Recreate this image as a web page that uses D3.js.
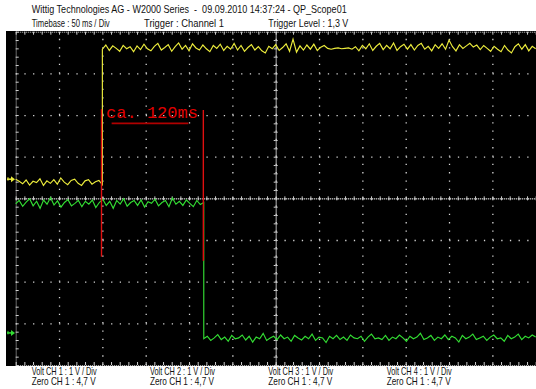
<!DOCTYPE html>
<html><head><meta charset="utf-8">
<script src="https://cdn.jsdelivr.net/npm/d3@7"></script>
<style>
body{margin:0;background:#fff}
svg{display:block}
text{font-family:"Liberation Sans Narrow","Liberation Sans",Arial,sans-serif;white-space:pre}
</style>
</head><body>
<svg id="chart" width="536" height="389"></svg>
<script>
// ---------- text ----------
const titleLine = "Wittig Technologies AG - W2000 Series  -  09.09.2010 14:37:24 - QP_Scope01";
const infoLabels = ["Timebase : 50 ms / Div", "Trigger : Channel 1", "Trigger Level : 1,3 V"];
const voltLabels = ["Volt CH 1 : 1 V / Div", "Volt CH 2 : 1 V / Div", "Volt CH 3 : 1 V / Div", "Volt CH 4 : 1 V / Div"];
const zeroLabels = ["Zero CH 1 : 4,7 V", "Zero CH 1 : 4,7 V", "Zero CH 1 : 4,7 V", "Zero CH 1 : 4,7 V"];
const annotationText = "ca. 120ms";

// ---------- data (time in ms, screen volts in divisions) ----------
const timeDomain = [0, 600];          // 12 div x 50 ms
const voltDomain = [-4, 4];           // 8 div x 1 V
const ch1EdgeMs = 100;
const ch2EdgeMs = 217;
const cursorMs = [99, 216.5];
const ch1Marker = 0.46;
const ch2Marker = -3.23;

const ch1Low = [0.46,0.41,0.35,0.44,0.32,0.41,0.38,0.47,0.31,0.42,0.36,0.45,0.34,0.49,0.39,0.33,0.43,0.46,0.36,0.31,0.42,0.45,0.34,0.40,0.43,0.33];
const ch1High = [
3.58,3.68,3.55,3.66,3.60,3.53,3.67,3.59,3.64,3.52,
3.66,3.57,3.70,3.59,3.54,3.65,3.72,3.56,3.62,3.69,
3.53,3.64,3.73,3.58,3.67,3.54,3.71,3.61,3.56,3.68,
3.59,3.52,3.67,3.60,3.70,3.55,3.65,3.58,3.72,3.56,
3.67,3.53,3.62,3.69,3.56,3.64,3.54,3.49,3.65,3.59,
3.69,3.55,3.62,3.71,3.53,3.82,3.51,3.66,3.56,3.68,
3.58,3.70,3.55,3.63,3.67,3.60,3.58,3.60,3.61,3.59,
3.60,3.61,3.58,3.64,3.54,3.67,3.59,3.71,3.55,3.65,
3.72,3.57,3.67,3.59,3.73,3.55,3.64,3.70,3.58,3.69,
3.56,3.67,3.72,3.58,3.65,3.54,3.69,3.60,3.71,3.58,
3.80,3.64,3.54,3.69,3.60,3.66,3.72,3.63,3.68,3.57,
3.67,3.60,3.53,3.65,3.58,3.52,3.67,3.56,3.49,3.64,
3.71,3.58,3.69,3.54,3.65,3.59];
const ch2High = [
-0.13,-0.05,-0.19,-0.09,-0.01,-0.18,-0.07,-0.24,-0.04,-0.14,
0.02,-0.16,-0.06,-0.21,-0.10,-0.03,-0.18,-0.12,-0.05,-0.20,
-0.07,-0.14,-0.04,-0.22,-0.10,-0.02,-0.17,-0.07,-0.24,-0.05,
-0.14,-0.01,-0.19,-0.10,-0.05,-0.17,-0.04,-0.21,-0.08,-0.12,
-0.02,-0.18,-0.10,-0.05,-0.20,0.01,-0.14,-0.07,-0.17,-0.04,
-0.12,-0.20,-0.05,-0.15,-0.10];
const ch2Low = [
-3.37,-3.31,-3.41,-3.35,-3.27,-3.39,-3.33,-3.43,-3.29,-3.37,
-3.35,-3.28,-3.40,-3.31,-3.45,-3.33,-3.37,-3.24,-3.41,-3.35,
-3.31,-3.39,-3.28,-3.37,-3.33,-3.43,-3.29,-3.35,-3.40,-3.31,
-3.37,-3.26,-3.41,-3.33,-3.35,-3.46,-3.31,-3.37,-3.29,-3.39,
-3.33,-3.41,-3.28,-3.35,-3.37,-3.31,-3.43,-3.33,-3.26,-3.37,
-3.35,-3.39,-3.29,-3.41,-3.33,-3.37,-3.28,-3.35,-3.43,-3.31,
-3.37,-3.33,-3.24,-3.39,-3.35,-3.29,-3.41,-3.33,-3.37,-3.28,
-3.39,-3.31,-3.35,-3.45,-3.29,-3.37,-3.33,-3.26,-3.39,-3.35,
-3.31,-3.41,-3.33,-3.28,-3.37,-3.35,-3.43,-3.29,-3.37,-3.33,
-3.26,-3.39,-3.31,-3.35,-3.28,-3.33];

// ---------- layout ----------
const svg = d3.select("#chart");
const x = d3.scaleLinear().domain(timeDomain).range([15.7, 535.7]);
const y = d3.scaleLinear().domain(voltDomain).range([365, 31.7]);

svg.append("rect").attr("x", 6).attr("y", 31).attr("width", 530).attr("height", 335).attr("fill", "#000");

const gridCol = "#d4d4d4", axisCol = "#d0d0d0";
function clean(g) { g.selectAll("text").remove(); return g; }

// vertical grid
const gx = svg.append("g").attr("transform", `translate(0,${y(-4)})`)
  .call(d3.axisBottom(x).tickValues(d3.range(50, 600, 50)).tickSize(-(y(-4) - y(4))).tickFormat(""));
gx.select(".domain").remove();
gx.selectAll("line").attr("stroke", gridCol).attr("stroke-width", 1.3).attr("stroke-dasharray", "1.3,7.03");

// horizontal grid
const gy = svg.append("g").attr("transform", `translate(${x(0)},0)`)
  .call(d3.axisLeft(y).tickValues(d3.range(-3, 4, 1)).tickSize(-(x(600) - x(0))).tickFormat(""));
gy.select(".domain").remove();
gy.selectAll("line").attr("stroke", gridCol).attr("stroke-width", 1.3).attr("stroke-dasharray", "1.3,7.37");

const minorT = d3.range(0, 601, 10);
const minorV = d3.range(-40, 41, 2).map(d => d / 10);

function styleAxis(g) {
  clean(g);
  g.select(".domain").attr("stroke", axisCol).attr("stroke-dasharray", "1,1");
  g.selectAll(".tick line").attr("stroke", axisCol);
}
// frame axes
svg.append("g").attr("transform", `translate(${x(0)},0)`)
  .call(d3.axisRight(y).tickValues(minorV).tickSize(3).tickSizeOuter(0).tickFormat("")).call(styleAxis);
svg.append("g").attr("transform", `translate(0,${y(4)})`)
  .call(d3.axisBottom(x).tickValues(minorT).tickSize(3).tickSizeOuter(0).tickFormat("")).call(styleAxis);
svg.append("g").attr("transform", `translate(0,${y(-4)})`)
  .call(d3.axisTop(x).tickValues(minorT).tickSize(3).tickSizeOuter(0).tickFormat("")).call(styleAxis);
// center axes
svg.append("g").attr("transform", `translate(0,${y(0)})`)
  .call(d3.axisBottom(x).tickValues(minorT).tickSize(2).tickSizeOuter(0).tickFormat("")).call(styleAxis);
svg.append("g").attr("transform", `translate(0,${y(0)})`)
  .call(d3.axisTop(x).tickValues(minorT).tickSize(2).tickSizeOuter(0).tickFormat("")).call(styleAxis);
svg.append("g").attr("transform", `translate(${x(300)},0)`)
  .call(d3.axisLeft(y).tickValues(minorV).tickSize(2).tickSizeOuter(0).tickFormat("")).call(styleAxis);
svg.append("g").attr("transform", `translate(${x(300)},0)`)
  .call(d3.axisRight(y).tickValues(minorV).tickSize(2).tickSizeOuter(0).tickFormat("")).call(styleAxis);

// ---------- traces ----------
function seg(values, t0, t1) {
  return values.map((v, i) => ({ t: t0 + i * (t1 - t0) / (values.length - 1), v }));
}
const line = d3.line().x(d => x(d.t)).y(d => y(d.v));
const ch1 = seg(ch1Low, 0, ch1EdgeMs).concat(seg(ch1High, ch1EdgeMs, 600));
const ch2 = seg(ch2High, 0, ch2EdgeMs).concat(seg(ch2Low, ch2EdgeMs, 600));

const ch1Col = "#ecec3c", ch2Col = "#33dd33";
svg.append("path").datum(ch2).attr("d", line).attr("fill", "none").attr("stroke", ch2Col).attr("stroke-width", 1.15);
svg.append("path").datum(ch1).attr("d", line).attr("fill", "none").attr("stroke", ch1Col).attr("stroke-width", 1.15);

// channel markers
function marker(v, col) {
  const yy = y(v);
  const g = svg.append("g").attr("fill", col).attr("stroke", col);
  g.append("line").attr("x1", 7).attr("x2", 12).attr("y1", yy).attr("y2", yy).attr("stroke-width", 1.5);
  g.append("path").attr("d", `M11,${yy - 3}L15,${yy}L11,${yy + 3}Z`).attr("stroke", "none");
  g.append("line").attr("x1", 8).attr("x2", 8).attr("y1", yy - 2).attr("y2", yy + 1.5).attr("stroke-width", 1);
}
marker(ch1Marker, ch1Col);
marker(ch2Marker, ch2Col);

// ---------- annotation ----------
const red = "#e01010";
svg.append("line").attr("x1", x(cursorMs[0])).attr("x2", x(cursorMs[0]))
  .attr("y1", y(2.14)).attr("y2", y(-1.40)).attr("stroke", red).attr("stroke-width", 1.4);
svg.append("line").attr("x1", x(cursorMs[1])).attr("x2", x(cursorMs[1]))
  .attr("y1", y(2.12)).attr("y2", y(-1.50)).attr("stroke", red).attr("stroke-width", 1.4);
svg.append("line").attr("x1", x(110.7)).attr("x2", x(199.2))
  .attr("y1", y(1.80)).attr("y2", y(1.80)).attr("stroke", "#b00000").attr("stroke-width", 1.6);
svg.append("text").attr("x", x(104.2)).attr("y", y(1.94))
  .style("font-family", "'Liberation Mono','Courier New',monospace").attr("font-size", 17)
  .attr("fill", "#e00000").attr("textLength", 92).attr("lengthAdjust", "spacingAndGlyphs").text(annotationText);

// ---------- header / footer text ----------
const fs = 10.5;
svg.append("text").attr("x", 31.7).attr("y", 13.3).attr("font-size", fs).attr("fill", "#111")
  .attr("textLength", 315).attr("lengthAdjust", "spacingAndGlyphs").text(titleLine);
const infoX = [31.7, 144, 268.3], infoW = [78, 80, 80];
infoLabels.forEach((s, i) => svg.append("text").attr("x", infoX[i]).attr("y", 26.8).attr("font-size", fs)
  .attr("fill", "#111").attr("textLength", infoW[i]).attr("lengthAdjust", "spacingAndGlyphs").text(s));
const colX = [31.7, 150, 268.3, 386.7];
voltLabels.forEach((s, i) => svg.append("text").attr("x", colX[i]).attr("y", 374.5).attr("font-size", fs)
  .attr("fill", "#111").attr("textLength", 65).attr("lengthAdjust", "spacingAndGlyphs").text(s));
zeroLabels.forEach((s, i) => svg.append("text").attr("x", colX[i]).attr("y", 385).attr("font-size", fs)
  .attr("fill", "#111").attr("textLength", 64).attr("lengthAdjust", "spacingAndGlyphs").text(s));
</script>
</body></html>
